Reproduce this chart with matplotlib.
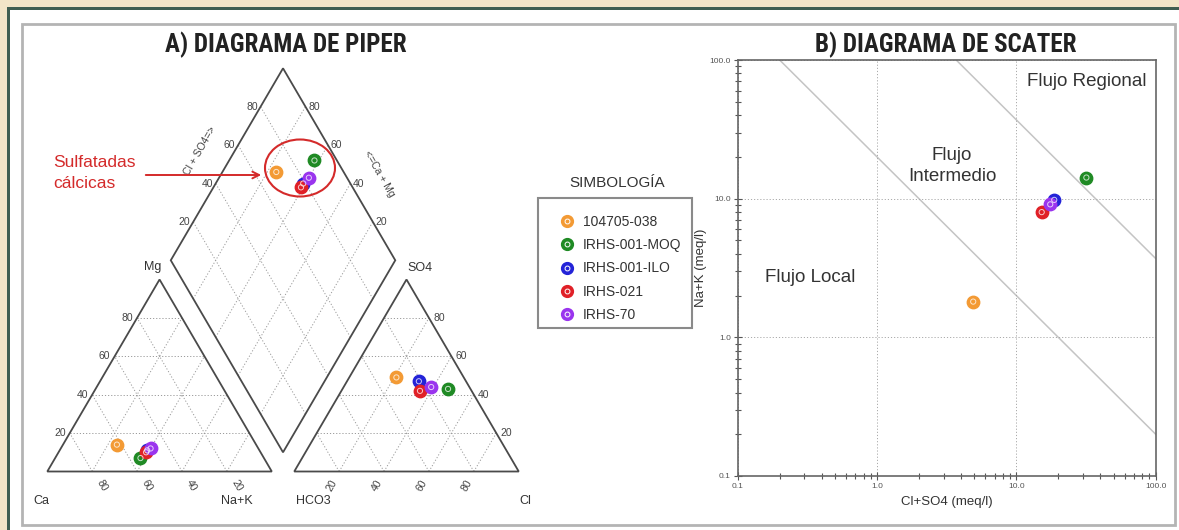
import numpy as np
import matplotlib
matplotlib.use("Agg")
import matplotlib.pyplot as plt
from matplotlib.patches import Rectangle, Ellipse, Polygon
from matplotlib.lines import Line2D
from matplotlib.ticker import FixedLocator, FuncFormatter, LogLocator, NullFormatter
from matplotlib import font_manager

plt.rcParams['font.family'] = ['Liberation Sans', 'DejaVu Sans']

# ==========================================
# data
# ==========================================
samples = ['104705-038', 'IRHS-001-MOQ', 'IRHS-001-ILO', 'IRHS-021', 'IRHS-70']
colors = ['#f39a34', '#1f8a24', '#2323d8', '#e02027', '#9a34ee']

# cations (%)
ca = np.array([62, 55, 50, 51, 48])
mg = np.array([14, 7, 11, 10, 12])
nak = np.array([24, 38, 39, 39, 40])

# anions (%)
hco3 = np.array([30, 10, 21, 23, 17])
so4 = np.array([49, 43, 47, 42, 44])
cl = np.array([21, 47, 32, 35, 39])

# scatter (meq/l)
cl_so4_meq = np.array([4.9, 31.8, 18.7, 15.2, 17.5])
na_k_meq = np.array([1.81, 14.2, 9.8, 8.0, 9.1])

grid_vals = [20, 40, 60, 80]
flow_lines = [20, 370]   # Na+K * (Cl+SO4) = const

W, H = 1179, 530


def fx(px):
    return px / W


def fy(py):
    return 1 - py / H


# ==========================================
# figure + frame
# ==========================================
fig = plt.figure(figsize=(W / 100, H / 100), dpi=100)
fig.patch.set_facecolor('#f2e5c8')
fig.patches.append(Rectangle((fx(7), 0), 1 - fx(7), fy(7), transform=fig.transFigure,
                             facecolor='#3f5e52', edgecolor='none', zorder=-3))
fig.patches.append(Rectangle((fx(10), 0), 1 - fx(10), fy(10), transform=fig.transFigure,
                             facecolor='white', edgecolor='none', zorder=-2))
fig.patches.append(Rectangle((fx(22), fy(525)), fx(1175) - fx(22), fy(24) - fy(525),
                             transform=fig.transFigure, facecolor='none',
                             edgecolor='#b4b4b4', lw=2, zorder=-1))

# condensed bold font for the titles, if one is around
title_font = dict(fontsize=15, fontweight='bold', color='#222222')
names = {f.name for f in font_manager.fontManager.ttflist}
for fam, size in [('Liberation Sans Narrow', 18), ('Arial Narrow', 18), ('Roboto Condensed', 18),
                  ('PT Sans Narrow', 19), ('Archivo Narrow', 18), ('IBM Plex Sans Condensed', 17.5)]:
    if fam in names:
        title_font['family'] = [fam, 'DejaVu Sans']
        title_font['fontsize'] = size
        break

# ==========================================
# A) Piper
# ==========================================
h = np.sqrt(3) / 2
g = 0.1
# pixel -> data: u = (px - 47.3)/224.5 ; v = (471.5 - py)/221.7
px0, sx, py0, sy = 47.3, 224.5, 471.5, 221.7
ax = fig.add_axes([fx(25), fy(525), fx(545) - fx(25), fy(30) - fy(525)])
ax.set_xlim((25 - px0) / sx, (545 - px0) / sx)
ax.set_ylim((py0 - 525) / sy, (py0 - 30) / sy)
ax.axis('off')

edge_kw = dict(color='#4a4a4a', lw=1.3, zorder=2)
grid_kw = dict(color='#9a9a9a', lw=0.7, ls=(0, (1.2, 2.0)), zorder=1)
tick_kw = dict(fontsize=7.5, color='#444444', textcoords='offset points')

off_r = 1 + g
# triangles
ax.add_patch(Polygon([(0, 0), (1, 0), (0.5, h)], closed=True, fill=False, **edge_kw))
ax.add_patch(Polygon([(off_r, 0), (off_r + 1, 0), (off_r + 0.5, h)], closed=True, fill=False, **edge_kw))
# diamond
B = np.array([1 + g / 2, g * h])
dR = np.array([0.5, h])
dL = np.array([-0.5, h])
L = B + dL
R = B + dR
T = B + dL + dR
ax.add_patch(Polygon([B, R, T, L], closed=True, fill=False, **edge_kw))

for v in grid_vals:
    t = v / 100
    for off in (0, off_r):
        ax.plot([off + t / 2, off + 1 - t / 2], [t * h, t * h], **grid_kw)
        ax.plot([off + 1 - t, off + 0.5 * (1 - t)], [0, (1 - t) * h], **grid_kw)
        ax.plot([off + t, off + t + (1 - t) / 2], [0, (1 - t) * h], **grid_kw)
    p1 = B + t * dR
    p2 = p1 + dL
    ax.plot([p1[0], p2[0]], [p1[1], p2[1]], **grid_kw)
    p1 = B + t * dL
    p2 = p1 + dR
    ax.plot([p1[0], p2[0]], [p1[1], p2[1]], **grid_kw)

    # tick labels
    ax.annotate(f"{v}", (t / 2, t * h), xytext=(-3, 0), ha='right', va='center', **tick_kw)
    ax.annotate(f"{100 - v}", (t, 0), xytext=(7, -10), ha='center', va='center', rotation=-60, **tick_kw)
    ax.annotate(f"{v}", (off_r + 1 - t / 2, t * h), xytext=(3, 0), ha='left', va='center', **tick_kw)
    ax.annotate(f"{v}", (off_r + t, 0), xytext=(-5, -10), ha='center', va='center', rotation=60, **tick_kw)
    pl = L + t * dR
    ax.annotate(f"{v}", pl, xytext=(-2, 0), ha='right', va='center', **tick_kw)
    pr = R + t * dL
    ax.annotate(f"{v}", pr, xytext=(2, 0), ha='left', va='center', **tick_kw)

lab_kw = dict(fontsize=9, color='#333333', textcoords='offset points', ha='center', va='center')
ax.annotate('Mg', (0.5, h), xytext=(-5, 9), **lab_kw)
ax.annotate('Ca', (0, 0), xytext=(-4, -21), **lab_kw)
ax.annotate('Na+K', (1, 0), xytext=(-25, -21), **lab_kw)
ax.annotate('SO4', (off_r + 0.5, h), xytext=(10, 8), **lab_kw)
ax.annotate('HCO3', (off_r, 0), xytext=(14, -21), **lab_kw)
ax.annotate('Cl', (off_r + 1, 0), xytext=(5, -21), **lab_kw)
pm = L + 0.57 * dR
ax.annotate('Cl + SO4=>', pm, xytext=(-25, 0), rotation=60, fontsize=7.5, color='#444444',
            textcoords='offset points', ha='center', va='center')
pm = R + 0.45 * dL
ax.annotate('<=Ca + Mg', pm, xytext=(25, 0), rotation=-60, fontsize=7.5, color='#444444',
            textcoords='offset points', ha='center', va='center')

# point positions
cat_u = nak / 100 + mg / 200
cat_v = mg / 100 * h
an_u = off_r + cl / 100 + so4 / 200
an_v = so4 / 100 * h
A = (cl + so4) / 100
C = (ca + mg) / 100
dia_u = B[0] + 0.5 * (A - C)
dia_v = B[1] + h * (A + C)


def draw_points(axis, xs, ys):
    for x, y, c in zip(xs, ys, colors):
        axis.scatter([x], [y], s=80, color=c, edgecolors=c, lw=1, zorder=5)
        axis.scatter([x], [y], s=14, facecolors='none', edgecolors='white', lw=0.7, alpha=0.75, zorder=6)


draw_points(ax, cat_u, cat_v)
draw_points(ax, an_u, an_v)
draw_points(ax, dia_u, dia_v)

# annotation
red = '#d42a2a'
ax.add_patch(Ellipse(((300 - px0) / sx, (py0 - 168) / sy), 70 / sx, 57 / sy,
                     fill=False, edgecolor=red, lw=1.5, zorder=4))
ax.annotate('', xy=((264 - px0) / sx, (py0 - 175) / sy), xytext=((143 - px0) / sx, (py0 - 175) / sy),
            arrowprops=dict(arrowstyle='->', color=red, lw=1.4, mutation_scale=12))
fig.text(fx(53), fy(173), 'Sulfatadas\ncálcicas', color=red, fontsize=12.5, ha='left', va='center',
         linespacing=1.45)

fig.text(fx(286), fy(45), 'A) DIAGRAMA DE PIPER', ha='center', va='center', **title_font)

# ==========================================
# legend (box drawn on its own, it sits off-centre round the entries)
# ==========================================
handles = []
for c in colors:
    handles.append((Line2D([], [], ls='none', marker='o', ms=8.5, color=c),
                    Line2D([], [], ls='none', marker='o', ms=3.5, mfc='none', mec='white', mew=0.7)))
fig.text(fx(617), fy(183), 'SIMBOLOGÍA', ha='center', va='center', fontsize=11, color='#333333')
fig.patches.append(Rectangle((fx(538), fy(328)), fx(692) - fx(538), fy(198) - fy(328),
                             transform=fig.transFigure, facecolor='white',
                             edgecolor='#8a8a8a', lw=1.5, zorder=1))
leg = fig.legend(handles, samples, loc='upper left', bbox_to_anchor=(fx(554.5), fy(214.5)),
                 fontsize=10, frameon=False, borderpad=0, labelspacing=0.68,
                 handletextpad=0.23, handlelength=1.8, borderaxespad=0)
leg.set_zorder(3)
for t in leg.get_texts():
    t.set_color('#333333')

# ==========================================
# B) scatter
# ==========================================
ax2 = fig.add_axes([fx(737.7), fy(476), fx(1155.7) - fx(737.7), fy(60) - fy(476)])
ax2.set_xscale('log')
ax2.set_yscale('log')
ax2.set_xlim(0.1, 100)
ax2.set_ylim(0.1, 100)

xx = np.array([0.1, 100])
for k in flow_lines:
    ax2.plot(xx, k / xx, color='#c4c4c4', lw=1.1, zorder=1)

draw_points(ax2, cl_so4_meq, na_k_meq)

fmt = FuncFormatter(lambda v, p: f"{v:.1f}")
for axis in (ax2.xaxis, ax2.yaxis):
    axis.set_major_locator(FixedLocator([0.1, 1, 10, 100]))
    axis.set_major_formatter(fmt)
    axis.set_minor_locator(LogLocator(base=10, subs=np.arange(2, 10)))
    axis.set_minor_formatter(NullFormatter())
ax2.tick_params(which='both', direction='inout', colors='#555555', labelsize=6, width=0.8)
ax2.tick_params(which='major', length=6, pad=2)
ax2.tick_params(which='minor', length=4)
ax2.grid(True, which='major', color='#aaaaaa', ls=(0, (1.2, 2.0)), lw=0.7)
for s in ax2.spines.values():
    s.set_color('#666666')
    s.set_linewidth(1.2)

ax2.set_xlabel('Cl+SO4 (meq/l)', fontsize=9.5, color='#333333', labelpad=4)
ax2.set_ylabel('Na+K (meq/l)', fontsize=9.5, color='#333333', labelpad=2)

txt_kw = dict(ha='center', va='center', fontsize=13.5, color='#333333', transform=fig.transFigure)
ax2.text(fx(1087), fy(81), 'Flujo Regional', **txt_kw)
ax2.text(fx(952), fy(166), 'Flujo\nIntermedio', linespacing=1.3, **txt_kw)
ax2.text(fx(810), fy(277), 'Flujo Local', **txt_kw)

fig.text(fx(946), fy(45), 'B) DIAGRAMA DE SCATER', ha='center', va='center', **title_font)

fig.savefig('out.png', dpi=100, facecolor=fig.get_facecolor())
